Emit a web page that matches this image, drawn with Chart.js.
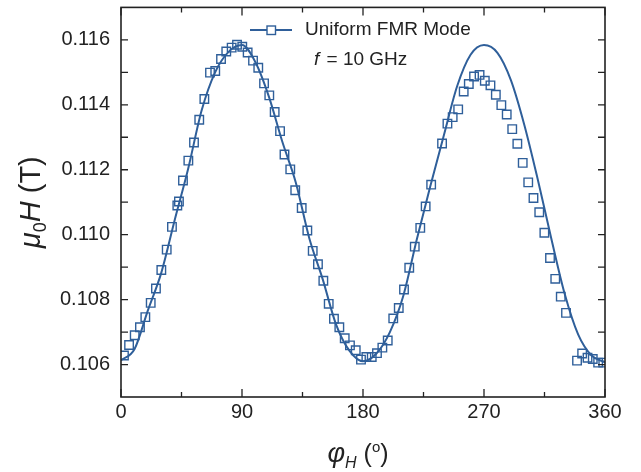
<!DOCTYPE html>
<html>
<head>
<meta charset="utf-8">
<script src="https://cdn.jsdelivr.net/npm/chart.js@4"></script>
<style>
  html, body { margin: 0; padding: 0; background: #fff; }
  #wrap { width: 641px; height: 472px; }
</style>
</head>
<body>
<div id="wrap"><canvas id="fmrChart" width="641" height="472"></canvas></div>
<script>
// measured resonance field (T) vs in-plane field angle (deg)
const phiMeas = [
  2.2, 6.0, 10.2, 14.1, 18.1, 22.1, 26.0, 30.0, 34.0, 37.9,
  41.9, 43.1, 46.1, 50.1, 54.3, 58.2, 62.0, 66.2, 70.1, 74.4,
  78.3, 82.3, 86.3, 90.2, 94.2, 98.2, 102.1, 106.4, 110.3, 114.3,
  118.3, 121.6, 125.9, 129.6, 134.4, 138.6, 142.6, 146.5, 150.5, 154.5,
  158.4, 162.4, 166.4, 170.3, 174.6, 178.5, 182.5, 186.5, 190.4, 194.4,
  198.4, 202.5, 206.6, 210.5, 214.4, 218.5, 222.6, 226.6, 230.7, 238.8,
  242.8, 246.7, 250.8, 254.9, 258.7, 262.6, 266.7, 270.6, 274.8, 278.8,
  282.9, 286.9, 291.0, 294.8, 298.8, 302.9, 306.8, 311.1, 314.9, 319.1,
  323.0, 327.1, 331.0, 339.2, 343.0, 347.0, 350.9, 354.9, 358.7
];
const fieldMeas = [
  0.10628, 0.10660, 0.10690, 0.10715, 0.10746, 0.10790, 0.10834, 0.10891, 0.10954, 0.11024,
  0.11090, 0.11102, 0.11167, 0.11228, 0.11284, 0.11354, 0.11418, 0.11499, 0.11504, 0.11541,
  0.11564, 0.11576, 0.11585, 0.11579, 0.11561, 0.11536, 0.11514, 0.11466, 0.11429, 0.11378,
  0.11319, 0.11247, 0.11201, 0.11137, 0.11082, 0.11013, 0.10950, 0.10909, 0.10858, 0.10787,
  0.10741, 0.10715, 0.10681, 0.10659, 0.10644, 0.10615, 0.10623, 0.10623, 0.10635, 0.10652,
  0.10674, 0.10742, 0.10774, 0.10831, 0.10898, 0.10963, 0.11021, 0.11087, 0.11154, 0.11281,
  0.11342, 0.11362, 0.11386, 0.11441, 0.11464, 0.11487, 0.11492, 0.11474, 0.11460, 0.11431,
  0.11399, 0.11370, 0.11325, 0.11280, 0.11221, 0.11161, 0.11113, 0.11069, 0.11006, 0.10928,
  0.10864, 0.10809, 0.10759, 0.10612, 0.10634, 0.10621, 0.10617, 0.10606, 0.10606
];

// model curve
const phiFit = [
  0, 10, 20, 30, 40, 50, 60, 70, 80, 90, 100, 110, 120, 130, 140, 150, 160, 170, 180,
  190, 200, 210, 220, 230, 240, 250, 260, 270, 280, 290, 300, 310, 320, 330, 340, 350, 360
];
const fieldFit = [
  0.10613, 0.10647, 0.10767, 0.10883, 0.11046, 0.11204, 0.11383, 0.11500, 0.11563, 0.11584,
  0.11531, 0.11425, 0.11286, 0.11161, 0.10990, 0.10863, 0.10723, 0.10642, 0.10610,
  0.10634, 0.10700, 0.10812, 0.10985, 0.11148, 0.11304, 0.11457, 0.11554, 0.11584,
  0.11560, 0.11476, 0.11338, 0.11170, 0.10989, 0.10818, 0.10693, 0.10628, 0.10607
];

const xTicks = [0, 90, 180, 270, 360];
const yTicks = [0.106, 0.108, 0.110, 0.112, 0.114, 0.116];

const blue = '#2f5f9a';
const ink = '#222222';
const FONT = '"Liberation Sans", Arial, Helvetica, sans-serif';

// draw a row of text pieces (italic / sub / superscript), centred on cx
function drawRuns(ctx, runs, cx, baseY) {
  let total = 0;
  runs.forEach(r => { ctx.font = r.font; total += ctx.measureText(r.t).width; });
  let x = cx - total / 2;
  ctx.textAlign = 'left';
  ctx.textBaseline = 'alphabetic';
  runs.forEach(r => {
    ctx.font = r.font;
    ctx.fillText(r.t, x, baseY + (r.dy || 0));
    x += ctx.measureText(r.t).width;
  });
}

// box round the plot with inward ticks on all four sides
const framePlugin = {
  id: 'frame',
  afterDatasetsDraw(chart) {
    const { ctx, chartArea: a, scales: { x, y } } = chart;
    ctx.save();
    ctx.strokeStyle = ink;
    ctx.lineWidth = 1.6;
    ctx.strokeRect(a.left, a.top, a.right - a.left, a.bottom - a.top);

    ctx.lineWidth = 1.3;
    ctx.beginPath();
    const xMinor = xTicks.slice(1).map((v, i) => (v + xTicks[i]) / 2);
    xTicks.forEach(v => {
      const px = x.getPixelForValue(v);
      ctx.moveTo(px, a.bottom); ctx.lineTo(px, a.bottom - 8);
      ctx.moveTo(px, a.top); ctx.lineTo(px, a.top + 8);
    });
    xMinor.forEach(v => {
      const px = x.getPixelForValue(v);
      ctx.moveTo(px, a.bottom); ctx.lineTo(px, a.bottom - 5);
      ctx.moveTo(px, a.top); ctx.lineTo(px, a.top + 5);
    });
    const yMinor = yTicks.slice(1).map((v, i) => (v + yTicks[i]) / 2)
      .concat([yTicks[0] - 0.001, yTicks[yTicks.length - 1] + 0.001]);
    yTicks.concat(yMinor).forEach(v => {
      const py = y.getPixelForValue(v);
      if (py <= a.top + 1 || py >= a.bottom - 1) return;
      ctx.moveTo(a.left, py); ctx.lineTo(a.left + 7, py);
      ctx.moveTo(a.right, py); ctx.lineTo(a.right - 7, py);
    });
    ctx.stroke();
    ctx.restore();
  }
};

// axis titles and the in-plot legend
const textPlugin = {
  id: 'texts',
  afterDraw(chart) {
    const { ctx, chartArea: a } = chart;
    ctx.save();
    ctx.fillStyle = ink;

    drawRuns(ctx, [
      { t: '\u03C6', font: 'italic 27px ' + FONT },
      { t: 'H', font: 'italic 16px ' + FONT, dy: 6 },
      { t: ' (', font: '25px ' + FONT },
      { t: 'o', font: '15px ' + FONT, dy: -10 },
      { t: ')', font: '25px ' + FONT }
    ], (a.left + a.right) / 2 - 5, 462);

    ctx.save();
    ctx.translate(40, (a.top + a.bottom) / 2);
    ctx.rotate(-Math.PI / 2);
    drawRuns(ctx, [
      { t: '\u03BC', font: 'italic 29px ' + FONT },
      { t: '0', font: '18px ' + FONT, dy: 6 },
      { t: 'H', font: 'italic 29px ' + FONT },
      { t: ' (T)', font: '29px ' + FONT }
    ], 0, 0);
    ctx.restore();

    // legend: line + open square, label, then frequency note
    ctx.strokeStyle = blue;
    ctx.lineWidth = 2;
    ctx.beginPath();
    ctx.moveTo(250, 30); ctx.lineTo(292, 30);
    ctx.stroke();
    ctx.fillStyle = '#fff';
    ctx.lineWidth = 1.4;
    ctx.fillRect(267, 26, 8.5, 8.5);
    ctx.strokeRect(267, 26, 8.5, 8.5);

    ctx.fillStyle = ink;
    ctx.textAlign = 'left';
    ctx.textBaseline = 'middle';
    ctx.font = '19px ' + FONT;
    ctx.fillText('Uniform FMR Mode', 305, 30);
    ctx.font = 'italic 19px ' + FONT;
    ctx.fillText('f', 314, 60);
    const fw = ctx.measureText('f').width;
    ctx.font = '19px ' + FONT;
    ctx.fillText(' = 10 GHz', 314 + fw + 2, 60);
    ctx.restore();
  }
};

new Chart(document.getElementById('fmrChart'), {
  type: 'scatter',
  data: {
    datasets: [
      {
        label: 'Uniform FMR Mode',
        data: phiMeas.map((p, i) => ({ x: p, y: fieldMeas[i] })),
        showLine: false,
        pointStyle: 'rect',
        pointRadius: 6,
        pointBorderWidth: 1.4,
        borderColor: blue,
        backgroundColor: 'rgba(255,255,255,0)',
        order: 1
      },
      {
        label: 'fit',
        data: phiFit.map((p, i) => ({ x: p, y: fieldFit[i] })),
        showLine: true,
        pointRadius: 0,
        borderColor: blue,
        borderWidth: 2,
        cubicInterpolationMode: 'monotone',
        order: 2
      }
    ]
  },
  options: {
    responsive: false,
    animation: false,
    layout: { padding: { left: 0, right: 36, top: 5, bottom: 0 } },
    plugins: { legend: { display: false }, tooltip: { enabled: false } },
    scales: {
      x: {
        type: 'linear',
        min: 0,
        max: 360,
        afterBuildTicks: s => { s.ticks = xTicks.map(v => ({ value: v })); },
        afterFit: s => { s.height = 75; s.paddingLeft = 0; s.paddingRight = 0; },
        grid: { display: false, drawTicks: false },
        border: { display: false },
        ticks: { padding: 3, color: ink, maxRotation: 0, autoSkip: false,
                 font: { family: FONT, size: 20 } }
      },
      y: {
        type: 'linear',
        min: 0.105,
        max: 0.117,
        afterBuildTicks: s => { s.ticks = yTicks.map(v => ({ value: v })); },
        afterFit: s => { s.width = 121; s.paddingTop = 0; s.paddingBottom = 0; },
        grid: { display: false, drawTicks: false },
        border: { display: false },
        ticks: { padding: 11, color: ink, autoSkip: false,
                 font: { family: FONT, size: 20 },
                 callback: v => v.toFixed(3) }
      }
    }
  },
  plugins: [framePlugin, textPlugin]
});
</script>
</body>
</html>
